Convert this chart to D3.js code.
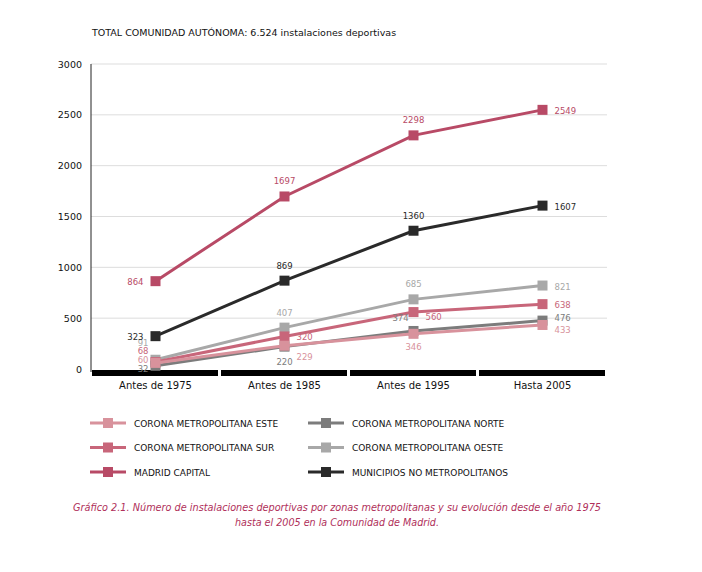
<!DOCTYPE html>
<html><head><meta charset="utf-8">
<script src="https://cdn.jsdelivr.net/npm/d3@7"></script>
<style>body{margin:0;background:#fff}text{font-family:"DejaVu Sans",sans-serif}</style>
</head><body><svg id="c" width="702" height="572"></svg>
<script>
const categories = ["Antes de 1975", "Antes de 1985", "Antes de 1995", "Hasta 2005"];
const yTicks = [0, 500, 1000, 1500, 2000, 2500, 3000];
const seriesNames = ["CORONA METROPOLITANA ESTE", "CORONA METROPOLITANA NORTE", "CORONA METROPOLITANA SUR",
  "CORONA METROPOLITANA OESTE", "MADRID CAPITAL", "MUNICIPIOS NO METROPOLITANOS"];
const este = [60, 229, 346, 433];
const norte = [32, 220, 374, 476];
const sur = [68, 320, 560, 638];
const oeste = [91, 407, 685, 821];
const madrid = [864, 1697, 2298, 2549];
const municipios = [323, 869, 1360, 1607];
const colors = ["#d8929c", "#7c7c7c", "#c8667a", "#a8a8a8", "#b84a66", "#2a2a2a"];
// label offsets [dx, dy, anchor] per point
const labelPos = [
  [[-7, 0, "end"], [12, 14, "start"], [0, 16, "middle"], [12, 8, "start"]],
  [[-7, 6, "end"], [0, 18, "middle"], [-13, -10, "middle"], [12, 0, "start"]],
  [[-7, -8, "end"], [12, 4, "start"], [12, 8, "start"], [12, 4, "start"]],
  [[-7, -14, "end"], [0, -12, "middle"], [0, -12, "middle"], [12, 4, "start"]],
  [[-12, 4, "end"], [0, -12, "middle"], [0, -12, "middle"], [12, 4, "start"]],
  [[-12, 4, "end"], [0, -12, "middle"], [0, -12, "middle"], [12, 4, "start"]]
];
const allSeries = [este, norte, sur, oeste, madrid, municipios];
const drawOrder = [3, 2, 1, 0, 4, 5];

const svg = d3.select("#c");
const x = d3.scaleBand().domain(categories).range([91, 607]);
const y = d3.scaleLinear().domain([0, 3000]).range([369, 64]);

svg.append("text").attr("x", 92).attr("y", 36).attr("font-size", 9.5).attr("fill", "#111")
  .text("TOTAL COMUNIDAD AUTÓNOMA: 6.524 instalaciones deportivas");

svg.append("g").selectAll("line").data(yTicks.slice(1)).join("line")
  .attr("x1", 91).attr("x2", 607).attr("y1", d => y(d)).attr("y2", d => y(d))
  .attr("stroke", "#ddd").attr("stroke-width", 1);
svg.append("line").attr("x1", 91).attr("x2", 91).attr("y1", 64).attr("y2", 372).attr("stroke", "#222");
svg.append("g").selectAll("text").data(yTicks).join("text")
  .attr("x", 82).attr("y", d => y(d) + 3.5).attr("text-anchor", "end").attr("font-size", 9.5).attr("fill", "#111")
  .text(d => d);

// x axis bars
svg.append("g").selectAll("rect").data(categories).join("rect")
  .attr("x", d => x(d) + 1).attr("width", x.bandwidth() - 3).attr("y", 370).attr("height", 6).attr("fill", "#000");
svg.append("g").selectAll("text").data(categories).join("text")
  .attr("x", d => x(d) + x.bandwidth() / 2).attr("y", 389).attr("text-anchor", "middle")
  .attr("font-size", 10).attr("fill", "#111").text(d => d);

const line = d3.line().x((d, i) => x(categories[i]) + x.bandwidth() / 2).y(d => y(d));
drawOrder.forEach(s => {
  const g = svg.append("g");
  g.append("path").attr("d", line(allSeries[s])).attr("fill", "none")
    .attr("stroke", colors[s]).attr("stroke-width", 3);
  g.selectAll("rect").data(allSeries[s]).join("rect")
    .attr("x", (d, i) => x(categories[i]) + x.bandwidth() / 2 - 5).attr("y", d => y(d) - 5)
    .attr("width", 10).attr("height", 10).attr("fill", colors[s]);
});
drawOrder.forEach(s => {
  svg.append("g").selectAll("text").data(allSeries[s]).join("text")
    .attr("x", (d, i) => x(categories[i]) + x.bandwidth() / 2 + labelPos[s][i][0])
    .attr("y", (d, i) => y(d) + labelPos[s][i][1])
    .attr("text-anchor", (d, i) => labelPos[s][i][2])
    .attr("font-size", 8.5).attr("fill", colors[s]).text(d => d);
});

// legend
const leg = svg.append("g").selectAll("g").data(seriesNames).join("g")
  .attr("transform", (d, i) => `translate(${i % 2 ? 308 : 90},${423 + Math.floor(i / 2) * 24.5})`);
leg.append("line").attr("x1", 0).attr("x2", 36).attr("stroke", (d, i) => colors[i]).attr("stroke-width", 3);
leg.append("rect").attr("x", 13).attr("y", -5).attr("width", 10).attr("height", 10).attr("fill", (d, i) => colors[i]);
leg.append("text").attr("x", 44).attr("y", 3.5).attr("font-size", 9).attr("fill", "#111").text(d => d);

const cap = svg.append("text").attr("text-anchor", "middle").attr("font-size", 11)
  .attr("font-style", "italic").attr("fill", "#b0305a").attr("font-family", "Open Sans")
  .attr("textLength", null);
cap.append("tspan").attr("x", 337).attr("y", 511).attr("textLength", 528).attr("lengthAdjust", "spacingAndGlyphs")
  .text("Gráfico 2.1. Número de instalaciones deportivas por zonas metropolitanas  y su evolución desde el año 1975");
cap.append("tspan").attr("x", 337).attr("y", 526).attr("textLength", 204).attr("lengthAdjust", "spacingAndGlyphs")
  .text("hasta el 2005 en la Comunidad de Madrid.");
</script></body></html>
